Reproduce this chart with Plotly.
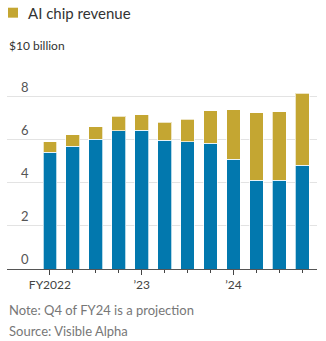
import plotly.graph_objects as go

quarters = ["FY22 Q1", "FY22 Q2", "FY22 Q3", "FY22 Q4",
            "FY23 Q1", "FY23 Q2", "FY23 Q3", "FY23 Q4",
            "FY24 Q1", "FY24 Q2", "FY24 Q3", "FY24 Q4"]
other_revenue = [5.40, 5.69, 6.00, 6.39, 6.43, 5.95, 5.89, 5.83, 5.09, 4.12, 4.12, 4.80]
ai_chip_revenue = [0.48, 0.53, 0.59, 0.69, 0.70, 0.84, 1.04, 1.50, 2.29, 3.12, 3.16, 3.33]
x_tick_labels = ["FY2022", "’23", "’24"]
y_tick_values = [0, 2, 4, 6, 8]

BLUE = "#0278ae"
GOLD = "#c4a632"
FONT = "Lato"

xs = list(range(len(quarters)))

fig = go.Figure()
fig.add_trace(go.Bar(x=xs, y=other_revenue, marker_color=BLUE,
                     marker_line=dict(color="rgba(255,255,255,0.7)", width=1),
                     width=0.6, showlegend=False, name="Other"))
fig.add_trace(go.Bar(x=xs, y=ai_chip_revenue, marker_color=GOLD,
                     marker_line=dict(color="rgba(255,255,255,0.7)", width=1),
                     width=0.6, showlegend=False, name="AI chip revenue"))

fig.update_layout(
    barmode="stack",
    width=326, height=341,
    margin=dict(l=7, r=9, t=52.5, b=71.5),
    plot_bgcolor="white", paper_bgcolor="white",
    font=dict(family=FONT, color="#555"),
    xaxis=dict(
        range=[-1.87, 11.64],
        tickmode="array", tickvals=[0, 4, 8], ticktext=x_tick_labels,
        ticks="outside", ticklen=5, tickcolor="#444", tickwidth=1,
        minor=dict(tickmode="array", tickvals=xs, ticks="outside", ticklen=3,
                   tickcolor="#444", tickwidth=1),
        showline=True, linecolor="#555", linewidth=1,
        showgrid=False, zeroline=False,
        tickfont=dict(size=12, color="#444"),
    ),
    yaxis=dict(
        range=[0, 10],
        tickmode="array", tickvals=y_tick_values + [10],
        ticktext=[str(v) for v in y_tick_values] + [""],
        ticklabelposition="inside top", ticklabelstandoff=11,
        showgrid=True, gridcolor="#e3e3e3", gridwidth=1,
        zeroline=False, showline=False, ticks="",
        tickfont=dict(size=13, color="#555"),
    ),
    shapes=[dict(type="rect", xref="paper", yref="paper",
                 x0=(8 - 7) / 310, x1=(18 - 7) / 310,
                 y0=1 + (52.5 - 17) / 217, y1=1 + (52.5 - 7) / 217,
                 fillcolor=GOLD, line=dict(width=0))],
    annotations=[
        dict(text="AI chip revenue", xref="paper", yref="paper",
             x=(26 - 7) / 310, y=1 + (52.5 - 12) / 217, xanchor="left", yanchor="middle",
             showarrow=False, font=dict(size=15, color="#333", family=FONT)),
        dict(text="$10 billion", xref="paper", yref="paper",
             x=0, y=1 + (52.5 - 44.5) / 217, xanchor="left", yanchor="middle",
             showarrow=False, font=dict(size=12, color="#333", family=FONT)),
        dict(text="Note: Q4 of FY24 is a projection", xref="paper", yref="paper",
             x=0, y=-(311 - 269.5) / 217, xanchor="left", yanchor="middle",
             showarrow=False, font=dict(size=13, color="#777", family=FONT)),
        dict(text="Source: Visible Alpha", xref="paper", yref="paper",
             x=0, y=-(332 - 269.5) / 217, xanchor="left", yanchor="middle",
             showarrow=False, font=dict(size=13, color="#777", family=FONT)),
    ],
)

fig.write_html("out.html")
